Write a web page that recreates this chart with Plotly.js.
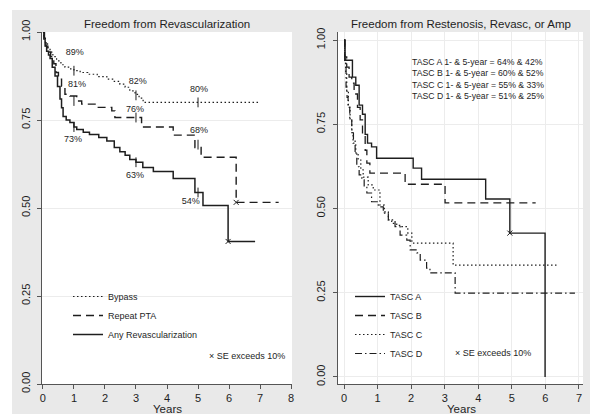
<!DOCTYPE html>
<html>
<head>
<meta charset="utf-8">
<script src="https://cdn.plot.ly/plotly-3.0.1.min.js"></script>
<style>html,body{margin:0;padding:0;background:#fff}#chart{width:590px;height:414px}</style>
</head>
<body>
<div id="chart"></div>
<script>
// ---------- Left panel: Freedom from Revascularization ----------
var bypassT = [0, 0.03, 0.08, 0.15, 0.23, 0.32, 0.44, 0.58, 0.71, 0.85, 1.0, 1.2, 1.45, 1.75, 2.06, 2.3, 2.48, 2.65, 2.8, 2.97, 3.1, 3.23, 7.0];
var bypassS = [1.0, 0.985, 0.97, 0.955, 0.943, 0.93, 0.918, 0.907, 0.90, 0.895, 0.89, 0.885, 0.88, 0.873, 0.866, 0.86, 0.852, 0.843, 0.833, 0.823, 0.812, 0.80, 0.80];

var ptaT = [0, 0.05, 0.1, 0.16, 0.25, 0.35, 0.42, 0.5, 0.6, 0.71, 0.87, 1.09, 1.25, 1.73, 2.22, 2.32, 3.18, 4.2, 4.9, 5.1, 6.23, 7.6];
var ptaS = [1.0, 0.98, 0.96, 0.943, 0.93, 0.91, 0.885, 0.866, 0.846, 0.823, 0.818, 0.804, 0.795, 0.786, 0.776, 0.757, 0.73, 0.707, 0.672, 0.644, 0.516, 0.516];

var anyT = [0, 0.03, 0.07, 0.12, 0.18, 0.23, 0.3, 0.39, 0.47, 0.55, 0.6, 0.65, 0.75, 0.87, 1.0, 1.09, 1.3, 1.5, 1.8, 2.06, 2.3, 2.48, 2.65, 2.8, 3.0, 3.22, 3.56, 4.2, 4.9, 5.16, 5.97, 6.84];
var anyS = [1.0, 0.98, 0.96, 0.945, 0.935, 0.925, 0.9, 0.875, 0.845, 0.81, 0.785, 0.76, 0.75, 0.743, 0.73, 0.723, 0.715, 0.709, 0.70, 0.69, 0.672, 0.66, 0.65, 0.638, 0.63, 0.615, 0.604, 0.584, 0.544, 0.507, 0.405, 0.405];

// estimates marked at 1, 3, 5 years
var markYears = [1, 3, 5];
var bypassMark = [0.89, 0.82, 0.80];
var ptaMark = [0.804, 0.757, 0.68];
var anyMark = [0.73, 0.63, 0.544];

var pctText = ["89%", "81%", "73%", "82%", "76%", "63%", "80%", "68%", "54%"];
var pctX = [1.03, 1.1, 0.97, 3.06, 2.97, 2.97, 5.03, 5.03, 4.77];
var pctY = [0.94, 0.849, 0.695, 0.86, 0.78, 0.593, 0.835, 0.72, 0.518];

// SE exceeds 10%
var seLeftT = [5.97, 6.23];
var seLeftS = [0.405, 0.516];

// ---------- Right panel: Freedom from Restenosis, Revasc, or Amp ----------
var tascAT = [0, 0.03, 0.25, 0.35, 0.45, 0.55, 0.63, 0.7, 0.82, 0.97, 2.06, 2.31, 4.22, 4.94, 5.99];
var tascAS = [1.0, 0.94, 0.89, 0.866, 0.807, 0.78, 0.72, 0.694, 0.683, 0.649, 0.62, 0.587, 0.528, 0.427, 0.0];

var tascBT = [0, 0.02, 0.08, 0.15, 0.23, 0.3, 0.4, 0.48, 0.55, 0.63, 0.68, 0.77, 1.82, 3.01, 5.71];
var tascBS = [1.0, 0.95, 0.92, 0.89, 0.872, 0.84, 0.80, 0.763, 0.72, 0.673, 0.635, 0.605, 0.572, 0.517, 0.517];

var tascCT = [0, 0.02, 0.05, 0.08, 0.13, 0.18, 0.23, 0.27, 0.35, 0.42, 0.5, 0.57, 0.72, 0.87, 1.07, 1.2, 1.32, 1.42, 1.57, 1.72, 1.9, 2.02, 3.25, 6.33];
var tascCS = [1.0, 0.95, 0.9, 0.85, 0.8, 0.763, 0.725, 0.694, 0.665, 0.644, 0.615, 0.593, 0.57, 0.555, 0.51, 0.49, 0.466, 0.456, 0.45, 0.446, 0.427, 0.397, 0.332, 0.332];

var tascDT = [0, 0.02, 0.06, 0.09, 0.12, 0.17, 0.23, 0.28, 0.33, 0.38, 0.45, 0.53, 0.6, 0.68, 0.82, 1.02, 1.17, 1.32, 1.52, 1.67, 1.87, 1.97, 2.17, 2.27, 2.46, 2.56, 3.31, 6.88];
var tascDS = [1.0, 0.93, 0.86, 0.83, 0.80, 0.765, 0.733, 0.70, 0.664, 0.624, 0.60, 0.585, 0.565, 0.546, 0.52, 0.505, 0.486, 0.466, 0.446, 0.421, 0.406, 0.377, 0.368, 0.347, 0.323, 0.309, 0.249, 0.249];

var seRightT = [4.94];
var seRightS = [0.427];

var tascSummary = [
  "TASC A 1- & 5-year = 64% & 42%",
  "TASC B 1- & 5-year = 60% & 52%",
  "TASC C 1- & 5-year = 55% & 33%",
  "TASC D 1- & 5-year = 51% & 25%"
];
var summaryY = [0.936, 0.902, 0.868, 0.834];

var xTicksLeft = [0, 1, 2, 3, 4, 5, 6, 7, 8];
var xTicksRight = [0, 1, 2, 3, 4, 5, 6, 7];
var yTicks = [0, 0.25, 0.5, 0.75, 1];
var yTickText = ["0.00", "0.25", "0.50", "0.75", "1.00"];
var xTitle = "Years";

// ---------- build ----------
var INK = '#1e1e1e';
var FONT = '"Liberation Sans", Arial, sans-serif';

function km(t, s, name, dash, width, xa, ya, leg) {
  return {x: t, y: s, name: name, type: 'scatter', mode: 'lines',
    line: {shape: 'hv', color: INK, width: width, dash: dash},
    xaxis: xa, yaxis: ya, legend: leg, hoverinfo: 'skip'};
}
function marks(t, s, sym, size, xa, ya) {
  return {x: t, y: s, type: 'scatter', mode: 'markers', showlegend: false,
    marker: {symbol: sym, size: size, color: INK, line: {color: INK, width: 1}},
    xaxis: xa, yaxis: ya, hoverinfo: 'skip'};
}

var traces = [
  km(bypassT, bypassS, 'Bypass', '1.5px,2.5px', 1.2, 'x', 'y', 'legend'),
  km(ptaT, ptaS, 'Repeat PTA', '8px,5px', 1.4, 'x', 'y', 'legend'),
  km(anyT, anyS, 'Any Revascularization', 'solid', 1.5, 'x', 'y', 'legend'),
  marks(markYears, bypassMark, 'line-ns-open', 7, 'x', 'y'),
  marks(markYears, ptaMark, 'line-ns-open', 7, 'x', 'y'),
  marks(markYears, anyMark, 'line-ns-open', 7, 'x', 'y'),
  marks(seLeftT, seLeftS, 'x-thin-open', 5, 'x', 'y'),
  {x: pctX, y: pctY, text: pctText, type: 'scatter', mode: 'text', showlegend: false,
    textfont: {family: FONT, size: 9, color: INK}, xaxis: 'x', yaxis: 'y', hoverinfo: 'skip'},
  km(tascAT, tascAS, 'TASC A', 'solid', 1.4, 'x2', 'y2', 'legend2'),
  km(tascBT, tascBS, 'TASC B', '8px,5px', 1.3, 'x2', 'y2', 'legend2'),
  km(tascCT, tascCS, 'TASC C', '1.5px,2.5px', 1.2, 'x2', 'y2', 'legend2'),
  km(tascDT, tascDS, 'TASC D', '7px,3px,1.5px,3px', 1.2, 'x2', 'y2', 'legend2'),
  marks(seRightT, seRightS, 'x-thin-open', 5, 'x2', 'y2')
];

var L = 42, R = 7, T = 32, B = 30, W = 590, H = 414;
var PW = W - L - R, PH = H - T - B;
function px(x) { return (x - L) / PW; }
function py(y) { return (H - B - y) / PH; }

var axBase = {
  showline: true, linecolor: '#555', linewidth: 1,
  ticks: 'outside', ticklen: 4, tickcolor: '#555', tickwidth: 1,
  zeroline: false, gridcolor: '#ececec', gridwidth: 1,
  tickfont: {family: FONT, size: 11, color: INK}
};
function ax(extra) { return Object.assign({}, axBase, extra); }

var annotations = [
  {text: 'Freedom from Revascularization', xref: 'paper', yref: 'paper', x: px(167), y: py(24),
    xanchor: 'center', yanchor: 'middle', showarrow: false, font: {family: FONT, size: 11.5, color: INK}},
  {text: 'Freedom from Restenosis, Revasc, or Amp', xref: 'paper', yref: 'paper', x: px(461), y: py(24),
    xanchor: 'center', yanchor: 'middle', showarrow: false, font: {family: FONT, size: 11.5, color: INK}},
  {text: xTitle, xref: 'paper', yref: 'paper', x: px(167), y: py(408.5),
    xanchor: 'center', yanchor: 'middle', showarrow: false, font: {family: FONT, size: 11.5, color: INK}},
  {text: xTitle, xref: 'paper', yref: 'paper', x: px(461), y: py(408.5),
    xanchor: 'center', yanchor: 'middle', showarrow: false, font: {family: FONT, size: 11.5, color: INK}},
  {text: '× SE exceeds 10%', xref: 'x', yref: 'y', x: 5.29, y: 0.08, xanchor: 'left',
    showarrow: false, font: {family: FONT, size: 9, color: INK}},
  {text: '× SE exceeds 10%', xref: 'x2', yref: 'y2', x: 3.25, y: 0.071, xanchor: 'left',
    showarrow: false, font: {family: FONT, size: 9, color: INK}}
];
tascSummary.forEach(function (s, i) {
  annotations.push({text: s, xref: 'x2', yref: 'y2', x: 1.97, y: summaryY[i], xanchor: 'left',
    showarrow: false, font: {family: FONT, size: 8.7, color: INK}});
});

var layout = {
  width: W, height: H,
  margin: {l: L, r: R, t: T, b: B, pad: 0},
  paper_bgcolor: '#e9e9e9', plot_bgcolor: '#ffffff',
  font: {family: FONT, color: INK},
  xaxis: ax({domain: [0, px(292)], range: [-0.03, 8.03], tickvals: xTicksLeft, showgrid: false, anchor: 'y'}),
  yaxis: ax({range: [0, 1.0], tickvals: yTicks, ticktext: yTickText, tickangle: -90, showgrid: true,
    anchor: 'x', ticklabelstandoff: 3}),
  xaxis2: ax({domain: [px(338), 1], range: [-0.18, 7.12], tickvals: xTicksRight, showgrid: true, anchor: 'y2'}),
  yaxis2: ax({range: [-0.021, 1.024], tickvals: yTicks, ticktext: yTickText, tickangle: -90, showgrid: true,
    anchor: 'x2', ticklabelstandoff: 4}),
  legend: {x: px(68), y: py(282), xanchor: 'left', yanchor: 'top', bgcolor: 'rgba(0,0,0,0)',
    borderwidth: 0, font: {family: FONT, size: 9, color: INK}, tracegroupgap: 0},
  legend2: {x: px(350), y: py(282), xanchor: 'left', yanchor: 'top', bgcolor: 'rgba(0,0,0,0)',
    borderwidth: 0, font: {family: FONT, size: 9, color: INK}, tracegroupgap: 0},
  shapes: [
    {type: 'rect', xref: 'paper', yref: 'paper', x0: px(-20), x1: px(12), y0: py(440), y1: py(-20),
      fillcolor: '#ffffff', line: {width: 0}, layer: 'below'},
    {type: 'rect', xref: 'paper', yref: 'paper', x0: px(-20), x1: px(610), y0: py(10), y1: py(-20),
      fillcolor: '#ffffff', line: {width: 0}, layer: 'below'}
  ],
  annotations: annotations,
  showlegend: true
};

Plotly.newPlot('chart', traces, layout, {displayModeBar: false, staticPlot: true});
</script>
</body>
</html>
